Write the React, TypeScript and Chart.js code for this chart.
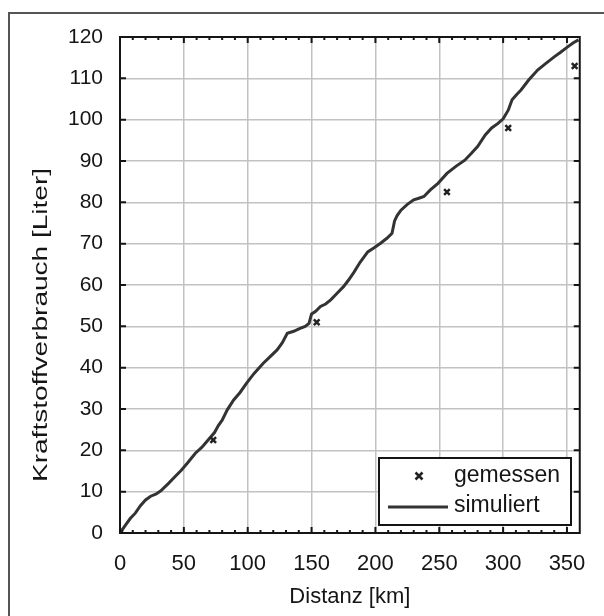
import React, { useEffect, useRef } from 'react';
import { Chart, registerables } from 'chart.js';

Chart.register(...registerables);

// ---- data ----
const simDistance = [0, 4, 8, 12, 16, 20, 24, 28, 32, 38, 43, 48, 53, 59, 64, 69, 74, 77, 80, 84, 89, 94, 99, 105, 112, 118, 123, 127, 131, 136, 141, 145, 148, 150, 153, 157, 161, 165, 170, 175, 179, 183, 188, 194, 199, 204, 209, 213, 215, 217, 220, 225, 230, 234, 238, 243, 249, 256, 263, 270, 275, 280, 286, 291, 296, 300, 304, 307, 311, 314, 320, 327, 333, 340, 345, 350, 355, 359];
const simFuel = [0, 1.8, 3.5, 4.8, 6.6, 8, 8.9, 9.4, 10.2, 12, 13.6, 15.2, 17, 19.3, 20.7, 22.5, 24.3, 26, 27.3, 29.8, 32.2, 34, 36.2, 38.6, 41, 42.8, 44.3, 46, 48.3, 48.8, 49.5, 50, 50.7, 53, 53.6, 54.8, 55.4, 56.4, 58, 59.6, 61.2, 63, 65.5, 68, 69, 70.1, 71.3, 72.5, 75.5, 76.8, 78.1, 79.5, 80.6, 81, 81.4, 83, 84.6, 87, 88.7, 90.2, 91.8, 93.5, 96.3, 98, 99.1, 100.2, 102.3, 104.8, 106.2, 107.2, 109.6, 112, 113.5, 115.2, 116.3, 117.5, 118.6, 119.3];
const measDistance = [0, 73, 154, 256, 304, 356];
const measFuel = [0, 22.5, 51, 82.5, 98, 113];
const xTicks = [0, 50, 100, 150, 200, 250, 300, 350];
const yTicks = [0, 10, 20, 30, 40, 50, 60, 70, 80, 90, 100, 110, 120];
const xMinorStep = 10;
const xTitle = 'Distanz [km]';
const yTitle = 'Kraftstoffverbrauch [Liter]';
const legendLabels = ['gemessen', 'simuliert'];

const FONT = "'Liberation Sans', Arial, Helvetica, sans-serif";
const INK = '#151515';

export default function App() {
  const ref = useRef<HTMLCanvasElement | null>(null);

  useEffect(() => {
    document.body.style.margin = '0';
    document.body.style.overflow = 'hidden';
    const canvas = ref.current!;

    const framePlugin = {
      id: 'frame',
      beforeDraw(chart: any) {
        const ctx = chart.ctx;
        ctx.save();
        ctx.fillStyle = '#ffffff';
        ctx.fillRect(0, 0, chart.width, chart.height);
        ctx.strokeStyle = '#555';
        ctx.lineWidth = 2;
        ctx.beginPath();
        ctx.moveTo(9, 616);
        ctx.lineTo(9, 13);
        ctx.lineTo(604, 13);
        ctx.stroke();
        ctx.restore();
      },
    };

    const axesPlugin = {
      id: 'axesBox',
      afterDatasetsDraw(chart: any) {
        const ctx = chart.ctx;
        const a = chart.chartArea;
        const xs = chart.scales.x;
        const ys = chart.scales.y;
        ctx.save();
        ctx.strokeStyle = INK;
        ctx.lineWidth = 2;
        ctx.strokeRect(a.left, a.top, a.right - a.left, a.bottom - a.top);
        ctx.beginPath();
        // major y ticks left & right
        yTicks.forEach((v) => {
          const py = ys.getPixelForValue(v);
          ctx.moveTo(a.left, py);
          ctx.lineTo(a.left + 6, py);
          ctx.moveTo(a.right, py);
          ctx.lineTo(a.right - 6, py);
        });
        // major x ticks bottom & top
        xTicks.forEach((v) => {
          const px = xs.getPixelForValue(v);
          ctx.moveTo(px, a.bottom);
          ctx.lineTo(px, a.bottom - 6);
          ctx.moveTo(px, a.top);
          ctx.lineTo(px, a.top + 6);
        });
        ctx.stroke();
        // minor x ticks
        ctx.beginPath();
        for (let v = xMinorStep; v < xs.max; v += xMinorStep) {
          if (v % 50 === 0) continue;
          const px = xs.getPixelForValue(v);
          ctx.moveTo(px, a.bottom);
          ctx.lineTo(px, a.bottom - 3);
          ctx.moveTo(px, a.top);
          ctx.lineTo(px, a.top + 3);
        }
        ctx.stroke();

        // y-axis title (stretched along its length as in the reference)
        ctx.save();
        ctx.fillStyle = INK;
        ctx.font = `21px ${FONT}`;
        ctx.textAlign = 'center';
        ctx.textBaseline = 'middle';
        ctx.translate(41, 325);
        ctx.rotate(-Math.PI / 2);
        const w = ctx.measureText(yTitle).width;
        ctx.scale(314 / w, 1);
        ctx.fillText(yTitle, 0, 0);
        ctx.restore();

        // legend box
        const lx = 379, ly = 458, lw = 192, lh = 67;
        ctx.fillStyle = '#ffffff';
        ctx.fillRect(lx, ly, lw, lh);
        ctx.lineWidth = 2;
        ctx.strokeStyle = INK;
        ctx.strokeRect(lx, ly, lw, lh);
        // marker
        const mx = 419, my = 476, r = 3.5;
        ctx.lineWidth = 2.5;
        ctx.strokeStyle = '#222';
        ctx.beginPath();
        ctx.moveTo(mx - r, my - r);
        ctx.lineTo(mx + r, my + r);
        ctx.moveTo(mx - r, my + r);
        ctx.lineTo(mx + r, my - r);
        ctx.stroke();
        // line sample
        ctx.lineWidth = 3;
        ctx.strokeStyle = '#333';
        ctx.beginPath();
        ctx.moveTo(388, 507);
        ctx.lineTo(448, 507);
        ctx.stroke();
        ctx.fillStyle = INK;
        ctx.font = `23px ${FONT}`;
        ctx.textAlign = 'left';
        ctx.textBaseline = 'middle';
        ctx.fillText(legendLabels[0], 454, 476);
        ctx.fillText(legendLabels[1], 454, 506);
        ctx.restore();
      },
    };

    const chart = new Chart(canvas, {
      type: 'scatter',
      data: {
        datasets: [
          {
            label: legendLabels[1],
            data: simDistance.map((d, i) => ({ x: d, y: simFuel[i] })),
            showLine: true,
            borderColor: '#333',
            borderWidth: 3,
            pointRadius: 0,
            tension: 0,
            order: 2,
          },
          {
            label: legendLabels[0],
            data: measDistance.map((d, i) => ({ x: d, y: measFuel[i] })),
            showLine: false,
            pointStyle: 'crossRot',
            pointRadius: 4,
            borderColor: '#222',
            backgroundColor: '#222',
            pointBorderWidth: 2.5,
            order: 1,
          },
        ],
      },
      options: {
        responsive: false,
        animation: false,
        layout: { padding: { left: 0, top: 37, right: 24, bottom: 0 } },
        plugins: { legend: { display: false }, tooltip: { enabled: false } },
        scales: {
          x: {
            type: 'linear',
            min: 0,
            max: 360,
            afterBuildTicks: (s: any) => {
              s.ticks = xTicks.map((v) => ({ value: v }));
            },
            afterFit: (s: any) => {
              s.height = 83;
            },
            grid: { color: '#c2c2c2', lineWidth: 1.5, drawTicks: false },
            border: { display: false },
            ticks: {
              color: INK,
              font: { family: FONT, size: 22 },
              padding: 18,
              maxRotation: 0,
              callback: (v: any) => String(v),
            },
            title: {
              display: true,
              text: xTitle,
              color: INK,
              font: { family: FONT, size: 22 },
              padding: { top: 0, bottom: 6 },
            },
          },
          y: {
            type: 'linear',
            min: 0,
            max: 120,
            afterBuildTicks: (s: any) => {
              s.ticks = yTicks.map((v) => ({ value: v }));
            },
            afterFit: (s: any) => {
              s.width = 120;
            },
            grid: { color: '#c2c2c2', lineWidth: 1.5, drawTicks: false },
            border: { display: false },
            ticks: {
              color: INK,
              font: { family: FONT, size: 21 },
              padding: 17,
              callback: (v: any) => String(v),
            },
          },
        },
      },
      plugins: [framePlugin, axesPlugin],
    });

    return () => chart.destroy();
  }, []);

  return <canvas ref={ref} width={604} height={616} style={{ display: 'block', width: 604, height: 616 }} />;
}
